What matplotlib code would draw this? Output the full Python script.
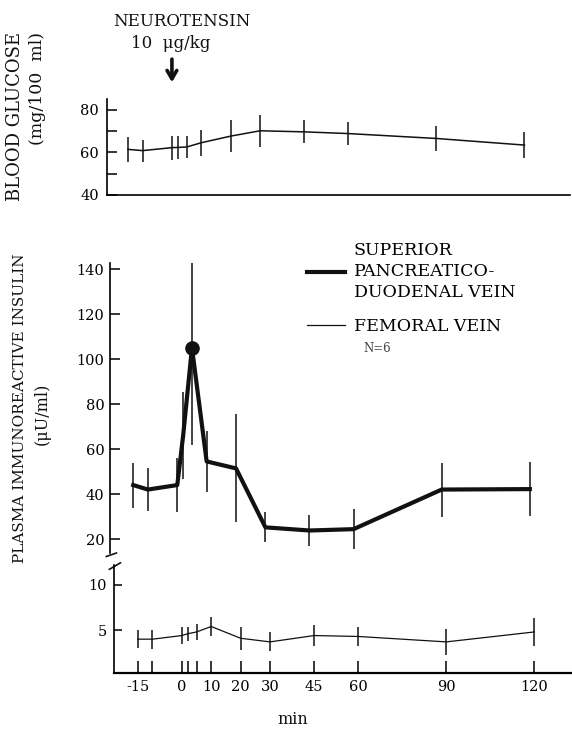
import numpy as np
import matplotlib
matplotlib.use("Agg")
import matplotlib.pyplot as plt
from matplotlib.lines import Line2D

# sampling times (min), relative to neurotensin injection
t = [-15, -10, 0, 2, 5, 10, 20, 30, 45, 60, 90, 120]
tick_labels = ["-15", "", "0", "", "", "10", "20", "30", "45", "60", "90", "120"]

# blood glucose (mg/100 ml)
glucose = [61.4, 60.8, 62.2, 62.3, 62.5, 64.5, 67.6, 70.1, 69.6, 68.8, 66.5, 63.4]
glucose_err = [6.0, 5.2, 5.6, 5.4, 5.0, 6.2, 7.4, 7.5, 5.4, 5.2, 5.8, 6.0]

# insulin, superior pancreatico-duodenal vein (uU/ml)
ins_spd = [44.0, 42.0, 44.0, 66.0, 105.0, 54.5, 51.4, 25.2, 23.8, 24.4, 42.0, 42.2]
ins_spd_err = [10.0, 9.5, 12.0, 19.5, 43.0, 13.5, 24.0, 6.7, 7.0, 9.0, 12.0, 12.0]

# insulin, femoral vein (uU/ml)
ins_fem = [4.0, 4.0, 4.4, 4.6, 4.8, 5.4, 4.1, 3.7, 4.4, 4.3, 3.7, 4.8]
ins_fem_err = [1.0, 1.05, 0.9, 0.8, 0.9, 1.1, 1.25, 1.05, 1.2, 1.1, 1.4, 1.5]

W, H = 572, 731
SERIF = "DejaVu Serif"
plt.rcParams["font.family"] = SERIF
ink = "#111111"


def box(left, right, top, bottom):
    # pixel box -> figure fraction rect
    return [left / W, (H - bottom) / H, (right - left) / W, (bottom - top) / H]


fig = plt.figure(figsize=(W / 100, H / 100), dpi=100)

# ---------------- blood glucose panel
axg = fig.add_axes(box(107, 570, 99, 195))
axg.errorbar(t, glucose, yerr=glucose_err, color=ink, lw=1.1, elinewidth=1.1, capsize=0)
axg.set_xlim(-22.1, 135.5)
axg.set_ylim(40, 85)
axg.set_yticks([40, 50, 60, 70, 80])
axg.set_yticklabels(["40", "", "60", "", "80"])
axg.set_xticks([])
for s in ["top", "right"]:
    axg.spines[s].set_visible(False)
axg.spines["left"].set_linewidth(1.2)
axg.spines["bottom"].set_linewidth(1.2)
axg.tick_params(axis="y", direction="in", length=7, width=1.1, labelsize=10.5, pad=6)

axg.annotate(
    "", xy=(0, 91.5), xytext=(0, 105),
    arrowprops=dict(arrowstyle="->,head_length=0.6,head_width=0.35", lw=2.6, color=ink),
    annotation_clip=False,
)
fig.text(182 / W, 1 - 22 / H, "NEUROTENSIN", ha="center", va="center", fontsize=12, color=ink)
fig.text(171 / W, 1 - 43 / H, "10  μg/kg", ha="center", va="center", fontsize=12, color=ink)
fig.text(15 / W, 1 - 32 / H, "BLOOD GLUCOSE", rotation=90, ha="center", va="top",
         fontsize=13, color=ink)
fig.text(38 / W, 1 - 32 / H, "(mg/100  ml)", rotation=90, ha="center", va="top",
         fontsize=12.5, color=ink)

# ---------------- insulin, pancreatico-duodenal vein (upper part)
axi = fig.add_axes(box(110, 568, 263, 553))
axi.errorbar(t, ins_spd, yerr=ins_spd_err, color=ink, lw=3.0, elinewidth=1.1, capsize=0)
axi.plot(t[4], ins_spd[4], "o", color=ink, ms=9.5)
axi.set_xlim(-22.9, 133)
axi.set_ylim(13.8, 142.7)
axi.set_yticks([20, 40, 60, 80, 100, 120, 140])
axi.set_xticks([])
for s in ["top", "right", "bottom"]:
    axi.spines[s].set_visible(False)
axi.spines["left"].set_linewidth(1.2)
axi.tick_params(axis="y", direction="in", length=7, width=1.1, labelsize=10.5, pad=4)

# ---------------- insulin, femoral vein (lower part)
axf = fig.add_axes(box(114, 572, 565, 673))
axf.errorbar(t, ins_fem, yerr=ins_fem_err, color=ink, lw=0.9, elinewidth=1.1, capsize=0)
axf.set_xlim(-23.1, 132.8)
axf.set_ylim(0.26, 12.2)
axf.set_yticks([5, 10])
axf.set_xticks(t)
axf.set_xticklabels(tick_labels)
for s in ["top", "right"]:
    axf.spines[s].set_visible(False)
axf.spines["left"].set_linewidth(1.2)
axf.spines["bottom"].set_linewidth(1.6)
axf.tick_params(axis="y", direction="in", length=6, width=1.1, labelsize=10.5, pad=5)
axf.tick_params(axis="x", direction="in", length=9, width=1.1, labelsize=10.5, pad=5)
axf.set_xlabel("min", fontsize=11.5, color=ink, va="center")
axf.xaxis.set_label_coords((293 - 114) / 458, -(719 - 673) / 108)

# axis break marks
kw = dict(color=ink, lw=1.2, clip_on=False)
axi.plot([-0.008, 0.014], [-0.012, 0.0], transform=axi.transAxes, **kw)
axf.plot([-0.01, 0.014], [0.96, 1.02], transform=axf.transAxes, **kw)

fig.text(20 / W, 1 - 408 / H, "PLASMA IMMUNOREACTIVE INSULIN", rotation=90, ha="center",
         va="center", fontsize=11, color=ink)
fig.text(42 / W, 1 - 414 / H, "(μU/ml)", rotation=90, ha="center", va="center",
         fontsize=11.5, color=ink)

# ---------------- legend
handles = [Line2D([], [], color=ink, lw=3.0), Line2D([], [], color=ink, lw=0.9)]
labels = ["SUPERIOR\nPANCREATICO-\nDUODENAL VEIN", "FEMORAL VEIN"]
leg = fig.legend(handles, labels, loc="upper left", bbox_to_anchor=(307 / W, 1 - 242 / H),
                 frameon=False, fontsize=12.5, handlelength=2.2, handletextpad=0.5,
                 borderpad=0, borderaxespad=0, labelspacing=1.0)
for txt in leg.get_texts():
    txt.set_linespacing(1.3)
fig.text(363 / W, 1 - 348 / H, "N=6", fontsize=8.5, color="#444444", va="center")

fig.savefig("out.png", dpi=100)
